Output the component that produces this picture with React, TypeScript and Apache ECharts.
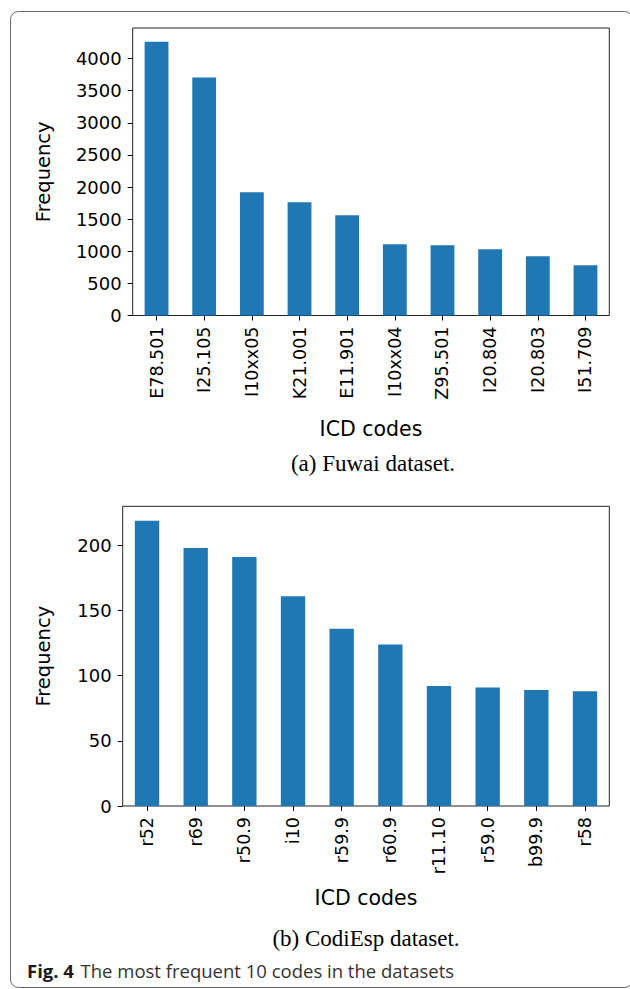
import React, { useEffect, useRef } from "react";
import * as echarts from "echarts";

// Fuwai dataset: ten most frequent ICD codes
const fuwaiCodes = ["E78.501", "I25.105", "I10xx05", "K21.001", "E11.901", "I10xx04", "Z95.501", "I20.804", "I20.803", "I51.709"];
const fuwaiFreq = [4262, 3703, 1918, 1762, 1561, 1110, 1094, 1033, 924, 784];
const fuwaiTicks = [0, 500, 1000, 1500, 2000, 2500, 3000, 3500, 4000];

// CodiEsp dataset: ten most frequent ICD codes
const codiCodes = ["r52", "r69", "r50.9", "i10", "r59.9", "r60.9", "r11.10", "r59.0", "b99.9", "r58"];
const codiFreq = [219, 198, 191, 161, 136, 124, 92, 91, 89, 88];
const codiTicks = [0, 50, 100, 150, 200];

const captionA = "(a) Fuwai dataset.";
const captionB = "(b) CodiEsp dataset.";
const figLabel = "Fig. 4";
const figText = "The most frequent 10 codes in the datasets";

const SANS = "'DejaVu Sans', Verdana, sans-serif";
const SERIF = "'Liberation Serif', serif";
const CAPTION = "'Open Sans', sans-serif";
const BAR = "#1f77b4";
const INK = "#000000";

function App() {
  const ref = useRef<HTMLDivElement>(null);

  useEffect(() => {
    if (!ref.current) return;
    const chart = echarts.init(ref.current, null, { renderer: "svg" });

    const xAxisBase = (gridIndex: number, data: string[], nameGap: number) => ({
      type: "category" as const,
      gridIndex,
      data,
      boundaryGap: true,
      name: "ICD codes",
      nameLocation: "middle" as const,
      nameGap,
      nameTextStyle: { fontFamily: SANS, fontSize: 20.5, color: INK },
      axisLine: { show: false },
      axisTick: { show: true, alignWithLabel: true, length: 5, lineStyle: { color: INK, width: 1 } },
      axisLabel: { rotate: 90, fontFamily: SANS, fontSize: 17.5, color: INK, margin: 11, interval: 0 },
      splitLine: { show: false },
    });

    const yAxisBase = (gridIndex: number, max: number, interval: number, ticks: number[], nameGap: number) => ({
      type: "value" as const,
      gridIndex,
      min: 0,
      max,
      interval,
      name: "Frequency",
      nameLocation: "middle" as const,
      nameGap,
      nameTextStyle: { fontFamily: SANS, fontSize: 19.5, color: INK },
      axisLine: { show: false },
      axisTick: { show: true, length: 5, lineStyle: { color: INK, width: 1 }, customValues: ticks },
      axisLabel: {
        fontFamily: SANS,
        fontSize: 18,
        color: INK,
        margin: 11,
        customValues: ticks,
        formatter: (v: number) => String(v),
      },
      splitLine: { show: false },
    });

    chart.setOption({
      animation: false,
      backgroundColor: "#ffffff",
      grid: [
        { left: 132.7, top: 28, width: 476.6, height: 287.5, show: true, borderColor: "#222", borderWidth: 1, containLabel: false },
        { left: 122.7, top: 506.3, width: 486.6, height: 299.7, show: true, borderColor: "#222", borderWidth: 1, containLabel: false },
      ],
      xAxis: [xAxisBase(0, fuwaiCodes, 103), xAxisBase(1, codiCodes, 81)],
      yAxis: [
        yAxisBase(0, 4475, 500, fuwaiTicks, 79),
        yAxisBase(1, 230, 50, codiTicks, 69),
      ],
      series: [
        { type: "bar", xAxisIndex: 0, yAxisIndex: 0, data: fuwaiFreq, barWidth: "50%", itemStyle: { color: BAR } },
        { type: "bar", xAxisIndex: 1, yAxisIndex: 1, data: codiFreq, barWidth: "50%", itemStyle: { color: BAR } },
      ],
      graphic: [
        {
          type: "rect",
          shape: { x: 10.5, y: 11.5, width: 622, height: 976, r: 8 },
          style: { fill: "none", stroke: "#666", lineWidth: 1 },
          silent: true,
        },
        {
          type: "text",
          x: 373,
          y: 463,
          style: { text: captionA, fontFamily: SERIF, fontSize: 23, fill: INK, align: "center", verticalAlign: "middle" },
        },
        {
          type: "text",
          x: 366,
          y: 938,
          style: { text: captionB, fontFamily: SERIF, fontSize: 23, fill: INK, align: "center", verticalAlign: "middle" },
        },
        {
          type: "text",
          x: 27,
          y: 970,
          style: {
            text: "{b|" + figLabel + "}  {n|" + figText + "}",
            verticalAlign: "middle",
            rich: {
              b: { fontFamily: CAPTION, fontWeight: "bold", fontSize: 18.5, fill: "#1a1a1a" },
              n: { fontFamily: CAPTION, fontSize: 18.5, fill: "#333" },
            },
          },
        },
      ],
    });

    return () => chart.dispose();
  }, []);

  return <div ref={ref} style={{ position: "fixed", left: 0, top: 0, width: 630, height: 989 }} />;
}

export default App;
